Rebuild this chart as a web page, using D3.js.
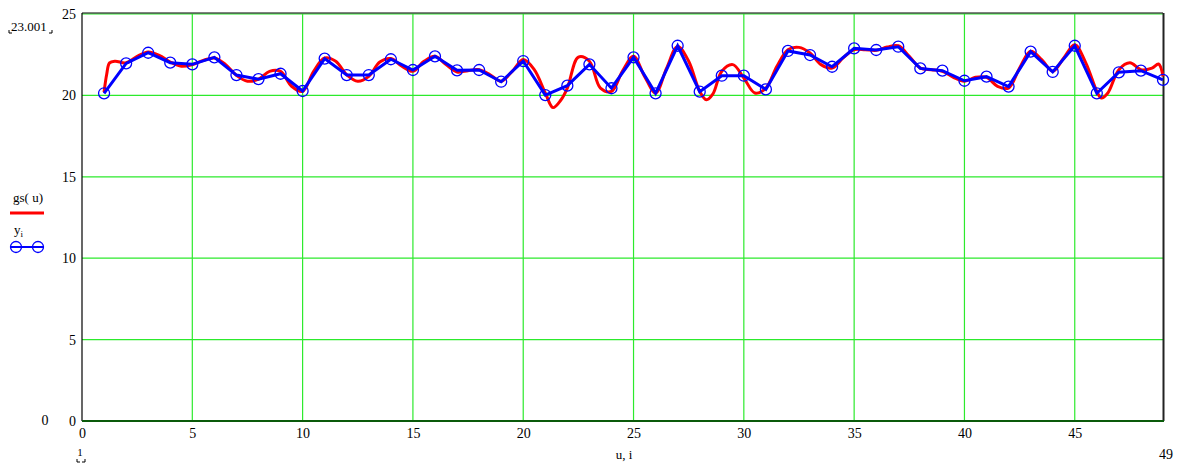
<!DOCTYPE html>
<html>
<head>
<meta charset="utf-8">
<script src="https://cdn.jsdelivr.net/npm/d3@7"></script>
<style>
  html, body { margin: 0; padding: 0; background: #fff; }
  svg { display: block; font-family: 'Liberation Serif', 'DejaVu Serif', serif; }
</style>
</head>
<body>
<div id="chart"></div>
<script>
// sampled points y_i, i = 1..49
const idx = d3.range(1, 50);
const yVals = [
  20.13, 21.97, 22.62, 22.01, 21.91, 22.34, 21.25, 21.0, 21.33, 20.27,
  22.26, 21.25, 21.25, 22.22, 21.56, 22.4, 21.54, 21.56, 20.84, 22.11,
  20.02, 20.6, 21.91, 20.44, 22.34, 20.13, 23.05, 20.23, 21.21, 21.21,
  20.37, 22.73, 22.48, 21.76, 22.89, 22.79, 22.99, 21.66, 21.52, 20.9,
  21.15, 20.54, 22.69, 21.44, 23.05, 20.13, 21.42, 21.52, 20.95
];

// gs(u)
const gsU = [
  1, 1.12, 1.25, 1.5, 2, 2.5, 3, 3.5, 4, 4.5, 5, 5.5, 6, 6.5, 7, 7.5, 8, 8.5, 9, 9.5,
  10, 10.5, 11, 11.5, 12, 12.5, 13, 13.5, 14, 14.5, 15, 15.5, 16, 16.5, 17, 17.5, 18, 18.5, 19, 19.5,
  20, 20.5, 21, 21.35, 21.7, 22, 22.5, 23, 23.5, 24, 24.5, 25, 25.5, 26, 26.5, 27, 27.5, 28, 28.3, 28.6,
  29, 29.5, 30, 30.5, 31, 31.5, 32, 32.5, 33, 33.5, 34, 34.5, 35, 35.5, 36, 36.5, 37, 37.5, 38, 38.5,
  39, 39.5, 40, 40.5, 41, 41.5, 42, 42.5, 43, 43.5, 44, 44.5, 45, 45.5, 46, 46.2, 46.5, 47, 47.5, 48,
  48.5, 48.8, 49
];
const gsV = [
  20.2, 21.3, 22.0, 22.1, 22.0, 22.4, 22.67, 22.46, 22.05, 21.79, 21.89, 22.15, 22.3, 21.9, 21.23, 20.87, 21.0, 21.48, 21.48, 20.56,
  20.25, 21.48, 22.3, 22.1, 21.27, 20.87, 21.17, 22.05, 22.26, 21.79, 21.48, 22.09, 22.4, 21.89, 21.44, 21.52, 21.58, 21.27, 20.87, 21.48,
  22.2, 21.58, 20.15, 19.25, 19.7, 20.45, 22.35, 22.1, 20.45, 20.25, 21.5, 22.4, 21.17, 20.15, 21.68, 23.01, 22.1, 20.25, 19.74, 20.1,
  21.48, 21.89, 21.07, 20.15, 20.45, 21.79, 22.81, 22.95, 22.6, 21.89, 21.68, 22.3, 22.81, 22.81, 22.77, 22.97, 23.05, 22.4, 21.68, 21.58,
  21.48, 21.11, 20.87, 21.11, 21.11, 20.56, 20.45, 21.68, 22.71, 22.2, 21.48, 22.3, 23.11, 22.0, 20.25, 19.84, 20.15, 21.58, 22.0, 21.58,
  21.68, 21.93, 21.17
];

const xTicks = d3.range(0, 46, 5);
const yTicks = d3.range(0, 26, 5);

const W = 1186, H = 464;
const M = { left: 82, right: 1163, top: 14, bottom: 421 };

const svg = d3.select('#chart').append('svg')
  .attr('width', W)
  .attr('height', H);

const x = d3.scaleLinear().domain([0, 49]).range([M.left, M.right]);
const y = d3.scaleLinear().domain([0, 25]).range([M.bottom, M.top]);

const GRID = '#2cea2c';

// grid
svg.append('g')
  .selectAll('line')
  .data(xTicks.filter((d) => d > 0))
  .join('line')
  .attr('x1', (d) => x(d)).attr('x2', (d) => x(d))
  .attr('y1', M.top).attr('y2', M.bottom)
  .attr('stroke', GRID).attr('stroke-width', 1.2);

svg.append('g')
  .selectAll('line')
  .data(yTicks.filter((d) => d > 0))
  .join('line')
  .attr('x1', M.left).attr('x2', M.right)
  .attr('y1', (d) => y(d)).attr('y2', (d) => y(d))
  .attr('stroke', GRID).attr('stroke-width', 1.2);

// frame
svg.append('line').attr('x1', M.left).attr('x2', M.right).attr('y1', M.top - 1).attr('y2', M.top - 1)
  .attr('stroke', '#000').attr('stroke-width', 1);
svg.append('line').attr('x1', M.left).attr('x2', M.left).attr('y1', M.top - 1).attr('y2', M.bottom)
  .attr('stroke', '#000').attr('stroke-width', 1.2);
svg.append('line').attr('x1', M.right + 0.5).attr('x2', M.right + 0.5).attr('y1', M.top - 1).attr('y2', M.bottom)
  .attr('stroke', '#222').attr('stroke-width', 2);
svg.append('line').attr('x1', M.left).attr('x2', M.right + 1).attr('y1', M.bottom).attr('y2', M.bottom)
  .attr('stroke', '#0a5a0a').attr('stroke-width', 2);

// tick labels
const yAxis = d3.axisLeft(y).tickValues(yTicks).tickSize(0).tickPadding(6);
svg.append('g')
  .attr('transform', `translate(${M.left},0)`)
  .call(yAxis)
  .call((g) => g.select('.domain').remove())
  .selectAll('text')
  .attr('font-family', "'Liberation Serif', serif")
  .attr('font-size', 14)
  .attr('fill', '#000');

const xAxis = d3.axisBottom(x).tickValues(xTicks).tickSize(0).tickPadding(7);
svg.append('g')
  .attr('transform', `translate(0,${M.bottom})`)
  .call(xAxis)
  .call((g) => g.select('.domain').remove())
  .selectAll('text')
  .attr('font-family', "'Liberation Serif', serif")
  .attr('font-size', 14)
  .attr('fill', '#000');

// red curve gs(u)
const gsData = gsU.map((u, k) => [u, gsV[k]]);
svg.append('path')
  .datum(gsData)
  .attr('fill', 'none')
  .attr('stroke', '#f00')
  .attr('stroke-width', 3)
  .attr('d', d3.line().x((d) => x(d[0])).y((d) => y(d[1])).curve(d3.curveCatmullRom.alpha(0.5)));

// blue y_i
const pts = idx.map((i, k) => [i, yVals[k]]);
svg.append('path')
  .datum(pts)
  .attr('fill', 'none')
  .attr('stroke', '#00f')
  .attr('stroke-width', 3)
  .attr('d', d3.line().x((d) => x(d[0])).y((d) => y(d[1])));

svg.append('g')
  .selectAll('circle')
  .data(pts)
  .join('circle')
  .attr('cx', (d) => x(d[0]))
  .attr('cy', (d) => y(d[1]))
  .attr('r', 5.5)
  .attr('fill', 'none')
  .attr('stroke', '#00f')
  .attr('stroke-width', 1.3);

// text bits around the plot
const txt = (tx, ty, s, size, anchor) => svg.append('text')
  .attr('x', tx).attr('y', ty)
  .attr('font-size', size || 13)
  .attr('text-anchor', anchor || 'start')
  .attr('fill', '#000')
  .text(s);

txt(11, 31, '23.001', 13);
// little corner marks around the limit placeholders
const corner = (cx, cy, dir) => svg.append('path')
  .attr('d', `M${cx},${cy - 3} L${cx},${cy} L${cx + dir * 3},${cy}`)
  .attr('stroke', '#000').attr('fill', 'none').attr('stroke-width', 1);
corner(9, 33, 1); corner(52, 33, -1);
txt(45, 425, '0', 14, 'middle');
txt(80, 456, '1', 11, 'middle');
corner(77, 462, 1); corner(85, 462, -1);
txt(1166, 459, '49', 14, 'middle');
txt(624, 459, 'u, i', 13, 'middle');

// legend
txt(13, 202, 'gs( u)', 13);
svg.append('line').attr('x1', 10).attr('x2', 44).attr('y1', 213).attr('y2', 213)
  .attr('stroke', '#f00').attr('stroke-width', 3);
const yl = txt(14, 234, 'y', 13);
yl.append('tspan').attr('font-size', 9).attr('dy', 3).text('i');
svg.append('line').attr('x1', 10).attr('x2', 44).attr('y1', 247).attr('y2', 247)
  .attr('stroke', '#00f').attr('stroke-width', 2);
svg.selectAll('.lgc')
  .data([16, 38])
  .join('circle')
  .attr('cx', (d) => d).attr('cy', 247).attr('r', 5.5)
  .attr('fill', 'none').attr('stroke', '#00f').attr('stroke-width', 1.3);
</script>
</body>
</html>
